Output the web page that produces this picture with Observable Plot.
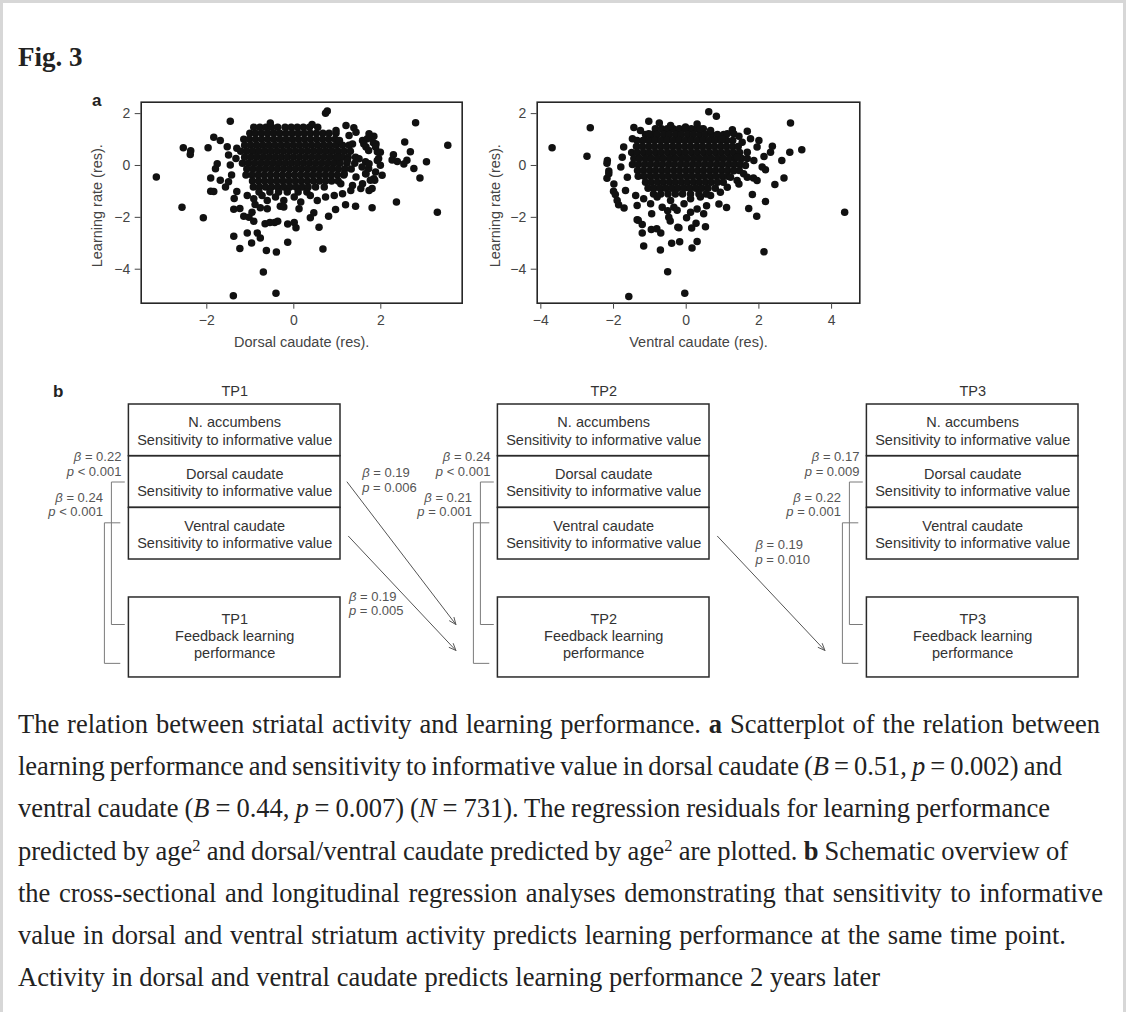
<!DOCTYPE html>
<html>
<head>
<meta charset="utf-8">
<script src="https://cdn.jsdelivr.net/npm/d3@7"></script>
<script src="https://cdn.jsdelivr.net/npm/@observablehq/plot@0.6"></script>
<style>
html,body{margin:0;padding:0;background:#fff;}
#page{position:relative;width:1126px;height:1012px;overflow:hidden;background:#fff;}
.abs{position:absolute;}
#border{left:0;top:0;width:1126px;height:1012px;box-sizing:border-box;border-top:3px solid #d7d7d7;border-left:3px solid #d7d7d7;border-right:3px solid #d7d7d7;pointer-events:none;}
#caption{left:18px;top:703px;font-family:"Liberation Serif",serif;font-size:26.5px;line-height:42.2px;color:#222;white-space:nowrap;}
#caption > div{width:max-content;}
#caption sup{font-size:0.62em;line-height:0;vertical-align:0.55em;}
svg{overflow:visible;}
</style>
</head>
<body>
<div id="page">
  <div id="p1" class="abs" style="left:80px;top:85px"></div>
  <div id="p2" class="abs" style="left:480px;top:85px"></div>
  <div id="pb" class="abs" style="left:0px;top:370px"></div>
  <div id="caption" class="abs">
    <div>The relation between striatal activity and learning performance. <b>a</b> Scatterplot of the relation between</div>
    <div>learning performance and sensitivity to informative value in dorsal caudate (<i>B</i> = 0.51, <i>p</i> = 0.002) and</div>
    <div>ventral caudate (<i>B</i> = 0.44, <i>p</i> = 0.007) (<i>N</i> = 731). The regression residuals for learning performance</div>
    <div>predicted by age<sup>2</sup> and dorsal/ventral caudate predicted by age<sup>2</sup> are plotted. <b>b</b> Schematic overview of</div>
    <div>the cross-sectional and longitudinal regression analyses demonstrating that sensitivity to informative</div>
    <div>value in dorsal and ventral striatum activity predicts learning performance at the same time point.</div>
    <div>Activity in dorsal and ventral caudate predicts learning performance 2 years later</div>
  </div>
  <div id="border" class="abs"></div>
</div>
<script>
// ================= DATA =================
// Panel a: axes
const yTicks = [-4, -2, 0, 2];
const dorsalTicks = [-2, 0, 2];
const ventralTicks = [-4, -2, 0, 2, 4];
const yLabel = "Learning rate (res).";
const dorsalLabel = "Dorsal caudate (res).";
const ventralLabel = "Ventral caudate (res).";

// Dorsal caudate scatter: dense core read as rows [y, [x...]] + individual points [x, y]
const dorsalCore = [
  [1.47, [-0.92,-0.78,-0.64,-0.51,-0.37,-0.2,-0.06,0.08,0.22,0.36,0.55]],
  [1.24, [-1.01,-0.88,-0.74,-0.6,-0.46,-0.32,-0.18,-0.04,0.1,0.24,0.38,0.52,0.67,0.81,0.97]],
  [1.01, [-1.15,-1.02,-0.88,-0.74,-0.6,-0.46,-0.32,-0.18,-0.04,0.1,0.24,0.38,0.52,0.66,0.8,0.95]],
  [0.78, [-1.13,-0.99,-0.85,-0.71,-0.57,-0.43,-0.29,-0.15,-0.01,0.13,0.27,0.41,0.55,0.69,0.83,0.97,1.12,1.27]],
  [0.55, [-1.22,-1.08,-0.94,-0.8,-0.66,-0.52,-0.38,-0.24,-0.1,0.04,0.18,0.32,0.46,0.6,0.74,0.88,1.02,1.16,1.3]],
  [0.32, [-1.13,-0.99,-0.85,-0.71,-0.57,-0.43,-0.29,-0.15,-0.01,0.13,0.27,0.41,0.55,0.69,0.83,0.97,1.11,1.25,1.42]],
  [0.09, [-1.18,-1.04,-0.9,-0.76,-0.62,-0.48,-0.34,-0.2,-0.06,0.08,0.22,0.36,0.5,0.64,0.78,0.92,1.06,1.22,1.4]],
  [-0.14, [-1.08,-0.94,-0.8,-0.66,-0.52,-0.38,-0.24,-0.1,0.04,0.18,0.32,0.46,0.6,0.74,0.88,1.02,1.17,1.32]],
  [-0.37, [-1.1,-0.96,-0.82,-0.68,-0.54,-0.4,-0.26,-0.12,0.02,0.16,0.3,0.44,0.58,0.72,0.86,1.0,1.15]],
  [-0.6, [-0.95,-0.81,-0.67,-0.53,-0.39,-0.25,-0.11,0.03,0.17,0.31,0.45,0.59,0.73,0.87,1.02]],
  [-0.83, [-0.93,-0.79,-0.65,-0.51,-0.37,-0.23,-0.09,0.05,0.19,0.33,0.5,0.7]],
  [-1.02, [-0.8,-0.55,-0.35,-0.15,0.1,0.3]]
];
const dorsalOther = [
  [-3.16,-0.44],[-2.57,-1.61],[-2.08,-2.02],[-2.54,0.68],[-2.37,0.57],[-2.38,0.42],[-1.46,1.71],[-1.84,1.09],[-1.97,0.68],[-1.91,-0.48],[-1.91,-0.99],
  [-1.38,-2.73],[-1.24,-3.2],[-1.39,-5.02],[-0.70,-4.11],[-0.41,-4.93],[-0.40,-3.34],[-0.63,-3.28],[-0.14,-2.96],[0.67,-3.22],[-0.97,-2.99],
  [-1.07,-2.6],[-0.84,-2.6],[-0.77,-2.8],[-1.15,-1.96],[-1.03,-2.0],[-0.92,-2.15],[-0.66,-2.25],[-0.55,-2.2],[-0.44,-2.2],[-0.37,-2.15],
  [-0.14,-2.26],[0.01,-2.2],[0.05,-2.4],[-0.31,-1.57],[-0.77,-1.63],[-0.89,-1.5],[-1.38,-1.69],[0.38,-2.02],[0.46,-1.82],[0.58,-2.38],
  [0.80,-1.96],[0.96,-1.7],[1.19,-1.51],[1.42,-1.57],[1.80,-1.63],[0.73,2.01],[0.77,2.1],[0.42,1.58],[-0.54,1.64],[1.38,1.45],[1.77,1.1],
  [2.80,1.65],[3.54,0.78],[3.30,-1.80],[2.36,-1.41],[3.05,0.14],[2.90,-0.48],[2.76,-0.12],[2.55,0.91],[2.68,0.53],[2.6,0.2],[2.53,0.06],
  [2.29,0.41],[2.38,0.15],[2.26,0.21],[1.84,1.13],[1.83,0.88],[1.92,0.53],[1.95,0.27],[1.99,0.01],[1.88,-0.25],[1.84,-0.51],[1.80,-0.89],
  [2.03,-0.38],[1.65,0.14],[1.72,-0.12],
  [-1.69,0.96],[-1.76,0.07],[-1.8,-0.13],[-1.69,-0.57],[-1.57,-0.83],[-1.5,0.4],[-1.46,0.02],[-1.43,-0.37],[-1.5,-0.63],[-1.31,-1.0],
  [-1.37,-1.27],[-1.24,-1.66],[-1.53,0.72],[-1.31,0.66],[-1.33,0.27],[-1.84,-1.0],
  [-1.07,-1.16],[-0.92,-1.28],[-0.73,-1.16],[-0.61,-1.35],[-0.42,-1.22],[-0.23,-1.35],[0.01,-1.22],[0.16,-1.41],[0.38,-1.16],[0.54,-1.35],
  [0.73,-1.22],[0.93,-1.16],[1.12,-1.09],[1.31,-0.96],[1.54,-0.89],[-0.61,-1.67],[-0.23,-1.6],[0.12,-1.67],[-0.96,-1.8],
  [0.97,1.35],[1.2,1.54],[1.27,1.16],[1.43,1.28],[1.58,0.96],[1.73,1.22],[1.05,0.96],[1.35,0.83],[1.66,0.71],[1.89,0.83],[1.0,0.32],
  [1.23,0.19],[1.5,0.26],[1.73,0.07],[1.92,0.19],[1.16,-0.32],[1.43,-0.44],[1.66,-0.32],[1.86,-0.57],[1.08,-0.7],[1.35,-0.77],[1.58,-0.7],
  [1.73,-0.96],[1.69,1.03],[1.88,0.71],[1.99,0.51],[1.76,-0.57],[1.61,0.83],[1.72,0.58],[1.57,-0.06],[1.65,-0.32]
];

// Ventral caudate scatter
const ventralCore = [
  [1.42, [-0.85,-0.68,-0.52,-0.36,-0.19,-0.03,0.14,0.3,0.47]],
  [1.19, [-1.12,-0.95,-0.79,-0.62,-0.46,-0.29,-0.13,0.04,0.2,0.37,0.53,0.7,0.86,1.03]],
  [0.96, [-1.35,-1.19,-1.02,-0.86,-0.69,-0.53,-0.36,-0.2,-0.03,0.13,0.3,0.46,0.63,0.79,0.96,1.12,1.28]],
  [0.73, [-1.37,-1.21,-1.04,-0.88,-0.71,-0.55,-0.38,-0.22,-0.05,0.11,0.28,0.44,0.61,0.77,0.94,1.1,1.27,1.43]],
  [0.5, [-1.5,-1.34,-1.17,-1.01,-0.84,-0.68,-0.51,-0.35,-0.18,-0.02,0.15,0.31,0.48,0.64,0.81,0.97,1.14,1.3,1.47]],
  [0.27, [-1.44,-1.28,-1.11,-0.95,-0.78,-0.62,-0.45,-0.29,-0.12,0.04,0.21,0.37,0.54,0.7,0.87,1.03,1.2,1.36,1.53,1.68]],
  [0.04, [-1.48,-1.32,-1.15,-0.99,-0.82,-0.66,-0.49,-0.33,-0.16,0.0,0.17,0.33,0.5,0.66,0.83,0.99,1.16,1.32,1.48]],
  [-0.19, [-1.34,-1.18,-1.01,-0.85,-0.68,-0.52,-0.35,-0.19,-0.02,0.14,0.31,0.47,0.64,0.8,0.97,1.13,1.3,1.46]],
  [-0.42, [-1.32,-1.16,-0.99,-0.83,-0.66,-0.5,-0.33,-0.17,0.0,0.16,0.33,0.49,0.66,0.82,0.99,1.15]],
  [-0.65, [-1.12,-0.96,-0.79,-0.63,-0.46,-0.3,-0.13,0.03,0.2,0.36,0.53,0.69,0.86,1.02]],
  [-0.88, [-1.05,-0.89,-0.72,-0.56,-0.39,-0.23,-0.06,0.1,0.27,0.43,0.6,0.8]],
  [-1.1, [-0.9,-0.7,-0.5,-0.3,-0.1,0.12,0.35,0.55]]
];
const ventralOther = [
  [-3.69,0.68],[-2.64,1.45],[-2.73,0.36],[-1.58,-5.05],[-2.18,0.09],[-2.13,-0.21],[-2.18,-0.49],[-2.0,-0.99],[-1.95,-1.12],[-1.86,-1.51],
  [-1.71,-1.64],[-1.35,-2.09],[-1.21,-2.28],[-1.21,-2.6],[-1.17,-3.1],[-1.44,1.46],[-1.03,1.71],[0.62,2.07],[0.83,1.90],[-0.74,1.64],
  [2.87,1.64],[3.18,0.61],[2.85,0.51],[2.63,0.19],[2.69,-0.48],[2.44,-0.73],[4.36,-1.8],[2.14,-3.33],[2.18,-1.39],[1.94,-1.96],[1.72,-1.66],
  [1.82,-1.12],[1.85,-0.48],[2.37,0.74],[2.14,0.35],[2.18,-0.16],[1.68,1.32],[1.45,1.13],[1.27,1.38],[1.11,-1.62],[0.90,-1.49],[0.56,-1.55],
  [0.30,-1.68],[0.53,-2.36],[0.27,-2.23],[0.15,-2.41],[0.30,-2.93],[0.16,-3.18],[0.01,-2.02],[-0.23,-2.38],[-0.18,-2.94],[-0.40,-3.0],
  [-0.71,-3.26],[-0.51,-4.10],[-0.04,-4.93],[-0.96,-2.47],[-0.81,-2.44],[-0.70,-2.60],[-0.95,-1.86],[-1.32,-2.11],[-0.51,-1.75],[-0.48,-2.0],
  [-0.44,-2.14],[-0.2,-2.4],[-0.34,-1.61],[0.12,-1.8],[0.48,-1.86],
  [-2.17,0.19],[-2.13,-0.32],[-1.99,-0.71],[-1.9,-1.35],[-1.76,0.32],[-1.72,0.71],[-1.8,-0.06],[-1.62,-0.45],[-1.67,-0.96],[-1.48,1.03],
  [-1.35,-1.54],[-1.39,-1.16],
  [-1.17,-1.28],[-0.98,-1.48],[-0.8,-1.22],[-0.66,-1.61],[-0.43,-1.35],[-0.25,-1.73],[-0.06,-1.48],[0.12,-1.28],[0.39,-1.22],[0.67,-1.16],
  [0.94,-1.03],[1.13,-0.84],[1.40,-0.58],[1.58,-0.32],
  [1.31,1.22],[1.54,0.9],[1.77,1.03],[1.95,0.71],[1.68,0.51],[1.4,0.32],[1.86,0.19],[2.09,-0.06],[1.63,0.0],[1.31,-0.2],[1.68,-0.45],
  [1.95,-0.58],[1.45,-0.71],[1.22,-0.45],[2.32,0.51],[2.0,0.96],[1.13,1.22],[0.99,1.03],
  [0.3,1.6],[-0.43,1.54],[-0.02,1.48],[0.39,1.41],[0.67,1.35],[-1.26,1.35],[-1.03,1.22]
];

// Panel b: schematic
const timepoints = ["TP1", "TP2", "TP3"];
const regions = ["N. accumbens", "Dorsal caudate", "Ventral caudate"];
const measure = "Sensitivity to informative value";
const outcome = "Feedback learning\nperformance";
// cross-sectional (same time point) paths
const crossTP = ["TP1", "TP1", "TP2", "TP2", "TP3", "TP3"];
const crossRegion = ["Dorsal caudate", "Ventral caudate", "Dorsal caudate", "Ventral caudate", "Dorsal caudate", "Ventral caudate"];
const crossBeta = [0.22, 0.24, 0.24, 0.21, 0.17, 0.22];
const crossP = ["< 0.001", "< 0.001", "< 0.001", "= 0.001", "= 0.009", "= 0.001"];
// longitudinal paths
const longFrom = ["TP1", "TP1", "TP2"];
const longRegion = ["Dorsal caudate", "Ventral caudate", "Ventral caudate"];
const longTo = ["TP2", "TP2", "TP3"];
const longBeta = [0.19, 0.19, 0.19];
const longP = ["= 0.006", "= 0.005", "= 0.010"];

// ================= PANEL A =================
const sans = '"Liberation Sans", Arial, Helvetica, sans-serif';
const Y_DOMAIN = [-5.31, 2.44];
const rowsToPoints = rows => rows.flatMap(([y, xs]) => xs.map(x => [x, y]));

function scatter({points, xDomain, xTicks, xLabel, frameW, ml, yLabelDx}) {
  const mt = 16.7, frameH = 201, mr = 12, mb = 60;
  return Plot.plot({
    width: ml + frameW + mr, height: mt + frameH + mb,
    marginLeft: ml, marginRight: mr, marginTop: mt, marginBottom: mb,
    style: {fontFamily: sans, fontSize: "14px", color: "#444", background: "transparent", overflow: "visible"},
    x: {domain: xDomain},
    y: {domain: Y_DOMAIN},
    marks: [
      Plot.dot(points, {x: d => d[0], y: d => d[1], r: 3.75, fill: "#111"}),
      Plot.frame({stroke: "#262626", strokeWidth: 1.6}),
      Plot.axisX({ticks: xTicks, tickSize: 6, tickPadding: 6, label: null}),
      Plot.axisY({ticks: yTicks, tickSize: 6, tickPadding: 5, label: null}),
      Plot.text([xLabel], {text: d => d, frameAnchor: "bottom", textAnchor: "middle", dy: 39.3, lineAnchor: "middle", fontSize: 14.5}),
      Plot.text([yLabel], {text: d => d, frameAnchor: "left", textAnchor: "middle", rotate: -90, dx: yLabelDx, dy: 3, lineAnchor: "middle", fontSize: 14.5})
    ]
  });
}

document.getElementById("p1").append(scatter({
  points: rowsToPoints(dorsalCore).concat(dorsalOther),
  xDomain: [-3.508, 3.871], xTicks: dorsalTicks, xLabel: dorsalLabel,
  frameW: 321, ml: 60.7, yLabelDx: -43.9
}));
document.getElementById("p2").append(scatter({
  points: rowsToPoints(ventralCore).concat(ventralOther),
  xDomain: [-4.1, 4.776], xTicks: ventralTicks, xLabel: ventralLabel,
  frameW: 322.6, ml: 56.7, yLabelDx: -41.6
}));

// ================= PANEL B =================
const COL = 369;          // px per time-point column
const ROW = 51.67;        // px per region row
const HW = 105.8 / COL;   // half box width (column units)
const FB_TOP = 3.735, FB_BOT = 5.283;   // outcome box (row units)
const colOf = tp => timepoints.indexOf(tp);
const rowOf = r => regions.indexOf(r);

const boxes = timepoints.flatMap((tp, i) => regions.map((r, j) => ({col: i, row: j, region: r})));
// bracket geometry per region (px offsets from the box, row-unit ends)
const bracketGeom = {
  "Dorsal caudate": {v: 17.5, tick: 4.5, top: 1.5, bot: 4.258, lab: 7.5, labY: 1.384},
  "Ventral caudate": {v: 24.5, tick: 9, top: 2.29, bot: 5.01, lab: 26, labY: 2.162}
};
const cross = crossTP.map((tp, i) => ({col: colOf(tp), region: crossRegion[i], beta: crossBeta[i], p: crossP[i], k: i}));
const bracketPts = cross.flatMap(d => {
  const g = bracketGeom[d.region], left = d.col - HW;
  const xv = left - g.v / COL, xt = left - g.tick / COL;
  return [[xt, g.top], [xv, g.top], [xv, g.bot], [xt, g.bot]].map(([x, y]) => ({x, y, k: d.k}));
});
const longs = longFrom.map((tp, i) => ({
  from: colOf(tp), to: colOf(longTo[i]), row: rowOf(longRegion[i]), beta: longBeta[i], p: longP[i], k: i
}));
const arrowStart = d => [d.from + HW + (d.row === 1 ? 6.6 : 8) / COL, d.row + 0.5 + (d.row === 1 ? 0 : 0.05)];
const arrowEnd = d => [d.to - HW - 42 / COL, d.row === 1 ? 4.258 : 4.76];
const arrowLabelOffset = [[15.1, 9.5], [0.4, 79], [38, 27.5]]; // px from arrow start to label (left, last baseline)

const statText = (beta, p) => `β = ${beta.toFixed(2)}\np ${p}`;

const pb = Plot.plot({
  width: 1126, height: 320, margin: 0,
  x: {domain: [0, 2], range: [234.2, 972.2], axis: null},
  y: {domain: [0, 1], range: [34, 34 + ROW], axis: null},
  style: {fontFamily: sans, fontSize: "14.5px", color: "#2b2b2b", background: "transparent", overflow: "visible"},
  marks: [
    Plot.text(timepoints, {x: (d, i) => i, y: () => -0.174, text: d => d, lineAnchor: "bottom", fill: "#333"}),
    Plot.rect(boxes, {x1: d => d.col - HW, x2: d => d.col + HW, y1: d => d.row, y2: d => d.row + 1, fill: "none", stroke: "#2a2a2a", strokeWidth: 1.5}),
    Plot.text(boxes, {x: d => d.col, y: d => d.row + 0.5, text: d => d.region + "\n" + measure, lineHeight: 1.2, lineAnchor: "middle", fill: "#333"}),
    Plot.rect(timepoints, {x1: (d, i) => i - HW, x2: (d, i) => i + HW, y1: () => FB_TOP, y2: () => FB_BOT, fill: "none", stroke: "#2a2a2a", strokeWidth: 1.5}),
    Plot.text(timepoints, {x: (d, i) => i, y: () => (FB_TOP + FB_BOT) / 2 - 0.04, text: d => d + "\n" + outcome, lineHeight: 1.2, lineAnchor: "middle", fill: "#333"}),
    Plot.line(bracketPts, {x: "x", y: "y", z: "k", stroke: "#7a7a7a", strokeWidth: 1}),
    Plot.text(cross, {
      x: d => d.col - HW - bracketGeom[d.region].lab / COL, y: d => bracketGeom[d.region].labY,
      text: d => statText(d.beta, d.p), textAnchor: "end", lineAnchor: "bottom", lineHeight: 1.12, fontSize: 13, fill: "#555"
    }),
    Plot.arrow(longs, {
      x1: d => arrowStart(d)[0], y1: d => arrowStart(d)[1], x2: d => arrowEnd(d)[0], y2: d => arrowEnd(d)[1],
      stroke: "#555", strokeWidth: 1, headLength: 11, headAngle: 45
    }),
    Plot.text(longs, {
      x: d => arrowStart(d)[0] + arrowLabelOffset[d.k][0] / COL, y: d => arrowStart(d)[1] + arrowLabelOffset[d.k][1] / ROW,
      text: d => statText(d.beta, d.p), textAnchor: "start", lineAnchor: "bottom", lineHeight: 1.12, fontSize: 13, fill: "#555"
    })
  ]
});
// italic statistic symbols (β, p)
pb.querySelectorAll("text, tspan").forEach(el => {
  if (el.childNodes.length === 1 && el.firstChild.nodeType === 3) {
    const m = /^([βp])( .*)$/.exec(el.firstChild.nodeValue);
    if (m) {
      el.textContent = "";
      const it = document.createElementNS("http://www.w3.org/2000/svg", "tspan");
      it.setAttribute("font-style", "italic");
      it.textContent = m[1];
      el.append(it, document.createTextNode(m[2]));
    }
  }
});
document.getElementById("pb").append(pb);

// ================= LABELS =================
const ov = d3.select("#page").insert("svg", "#border")
  .attr("class", "abs").attr("width", 1126).attr("height", 1012)
  .style("left", "0px").style("top", "0px").style("pointer-events", "none");
ov.append("text").attr("x", 18).attr("y", 66)
  .attr("font-family", '"Liberation Serif", serif').attr("font-weight", "bold").attr("font-size", 27).attr("fill", "#222")
  .text("Fig. 3");
ov.append("text").attr("x", 92).attr("y", 106)
  .attr("font-family", sans).attr("font-weight", "bold").attr("font-size", 17).attr("fill", "#222").text("a");
ov.append("text").attr("x", 53).attr("y", 397)
  .attr("font-family", sans).attr("font-weight", "bold").attr("font-size", 17).attr("fill", "#222").text("b");

// caption lines: spread words so each line ends where it does in the figure
const captionLineEnds = [1100, 1062, 1050, 1068, 1103, 1066, 880];
document.querySelectorAll("#caption > div").forEach((el, i) => {
  const w = el.getBoundingClientRect().width;
  const spaces = (el.textContent.match(/ /g) || []).length;
  if (spaces) el.style.wordSpacing = ((captionLineEnds[i] - 18 - w) / spaces).toFixed(2) + "px";
});
</script>
</body>
</html>
